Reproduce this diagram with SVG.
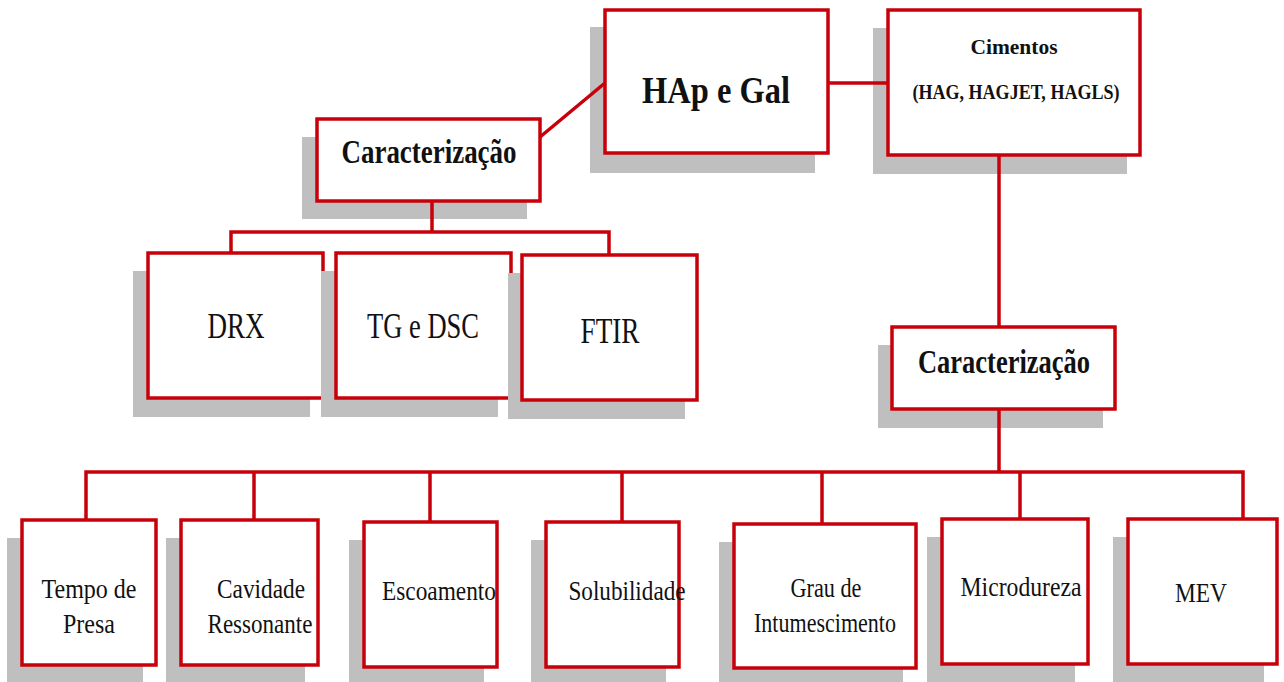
<svg xmlns="http://www.w3.org/2000/svg" width="1284" height="682" viewBox="0 0 1284 682">
<style>
.sh{fill:#bfbfbf}
.bx{fill:#fff;stroke:#c8000a;stroke-width:3.5}
.ln{stroke:#c8000a;stroke-width:3.5;fill:none}
.t{font-family:"Liberation Serif","Times New Roman",serif;fill:#111;text-anchor:middle}
.b{font-weight:bold}
.big{font-size:37px}
.hd{font-size:33px}
.md{font-size:35px}
.sm{font-size:27px}
.cm{font-size:22px}
</style>
<rect width="1284" height="682" fill="#fff"/>
<g id="hap"><rect class="sh" x="590" y="27" width="225" height="146"/><rect class="bx" x="605" y="10" width="223" height="143"/><text class="t b big" x="716" y="103" textLength="148" lengthAdjust="spacingAndGlyphs">HAp e Gal</text></g>
<g id="cimentos"><rect class="sh" x="873" y="28" width="254" height="146"/><rect class="bx" x="888" y="10" width="252" height="145"/><text class="t b cm" x="1014" y="54" textLength="87" lengthAdjust="spacingAndGlyphs">Cimentos</text><text class="t b cm" x="1016" y="99" textLength="207" lengthAdjust="spacingAndGlyphs">(HAG, HAGJET, HAGLS)</text></g>
<g id="caract1"><rect class="sh" x="302" y="137" width="225" height="82"/><rect class="bx" x="317" y="119" width="223" height="82"/><text class="t b hd" x="429" y="163" textLength="175" lengthAdjust="spacingAndGlyphs">Caracterização</text></g>
<g id="drx"><rect class="sh" x="133" y="271" width="177" height="146"/><rect class="bx" x="148" y="253" width="175" height="145"/><text class="t md" x="236" y="338" textLength="57" lengthAdjust="spacingAndGlyphs">DRX</text></g>
<g id="tgdsc"><rect class="sh" x="321" y="271" width="177" height="146"/><rect class="bx" x="336" y="253" width="175" height="145"/><text class="t md" x="423" y="338" textLength="112" lengthAdjust="spacingAndGlyphs">TG e DSC</text></g>
<g id="ftir"><rect class="sh" x="508" y="273" width="177" height="146"/><rect class="bx" x="522" y="255" width="175" height="145"/><text class="t md" x="610" y="343" textLength="59" lengthAdjust="spacingAndGlyphs">FTIR</text></g>
<g id="caract2"><rect class="sh" x="878" y="345" width="225" height="83"/><rect class="bx" x="892" y="327" width="223" height="82"/><text class="t b hd" x="1004" y="373" textLength="172" lengthAdjust="spacingAndGlyphs">Caracterização</text></g>
<g id="tempo"><rect class="sh" x="7" y="538" width="136" height="146"/><rect class="bx" x="22" y="520" width="134" height="145"/><text class="t sm" x="89" y="598" textLength="95" lengthAdjust="spacingAndGlyphs">Tempo de</text><text class="t sm" x="89" y="633" textLength="52" lengthAdjust="spacingAndGlyphs">Presa</text></g>
<g id="cavidade"><rect class="sh" x="166" y="538" width="139" height="146"/><rect class="bx" x="181" y="520" width="137" height="145"/><text class="t sm" x="261" y="598" textLength="88" lengthAdjust="spacingAndGlyphs">Cavidade</text><text class="t sm" x="260" y="633" textLength="105" lengthAdjust="spacingAndGlyphs">Ressonante</text></g>
<g id="escoamento"><rect class="sh" x="349" y="540" width="135" height="146"/><rect class="bx" x="364" y="522" width="133" height="145"/><text class="t sm" x="439" y="600" textLength="114" lengthAdjust="spacingAndGlyphs">Escoamento</text></g>
<g id="solubilidade"><rect class="sh" x="531" y="540" width="135" height="146"/><rect class="bx" x="546" y="522" width="133" height="145"/><text class="t sm" x="627" y="600" textLength="117" lengthAdjust="spacingAndGlyphs">Solubilidade</text></g>
<g id="grau"><rect class="sh" x="719" y="542" width="184" height="146"/><rect class="bx" x="734" y="524" width="182" height="144"/><text class="t sm" x="826" y="597" textLength="71" lengthAdjust="spacingAndGlyphs">Grau de</text><text class="t sm" x="825" y="632" textLength="142" lengthAdjust="spacingAndGlyphs">Intumescimento</text></g>
<g id="microdureza"><rect class="sh" x="927" y="537" width="148" height="146"/><rect class="bx" x="942" y="519" width="146" height="145"/><text class="t sm" x="1021" y="596" textLength="121" lengthAdjust="spacingAndGlyphs">Microdureza</text></g>
<g id="mev"><rect class="sh" x="1113" y="537" width="151" height="146"/><rect class="bx" x="1128" y="519" width="149" height="145"/><text class="t sm" x="1201" y="602" textLength="52" lengthAdjust="spacingAndGlyphs">MEV</text></g>
<g id="connectors">
<line class="ln" x1="540" y1="137" x2="605" y2="83"/>
<line class="ln" x1="828" y1="83" x2="888" y2="83"/>
<line class="ln" x1="999" y1="155" x2="999" y2="327"/>
<path class="ln" d="M432 201V232M231 253V232H609V255"/>
<path class="ln" d="M999 409V472M86 520V472H1243V519M254 472V520M430 472V522M622 472V522M822 472V524M1020 472V519"/>
</g>
</svg>
